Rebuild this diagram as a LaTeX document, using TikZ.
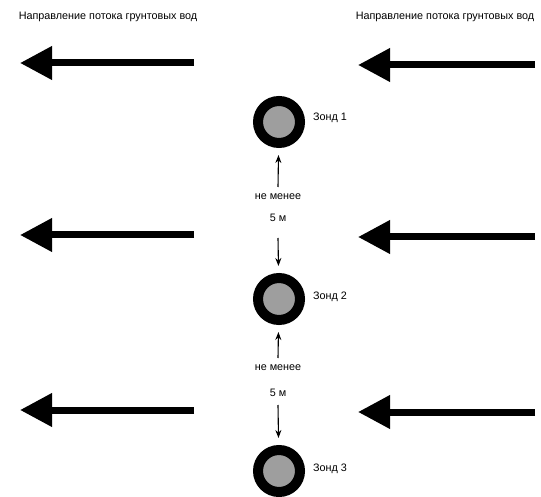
\documentclass[tikz,border=0pt]{standalone}
\usepackage{fontspec}
\setmainfont{Liberation Sans}
\usetikzlibrary{arrows.meta}

\begin{document}
\begin{tikzpicture}[
    x = 1pt, y = 1pt,
      probe/.style={circle, draw=black, line width=10pt, fill=black!38, minimum size=42pt, inner sep=0pt},
      probelabel/.style={anchor=west, inner sep=0pt, font=\fontsize{10.8}{13}\selectfont},
      header/.style={inner sep=0pt, font=\fontsize{10.8}{13}\selectfont},
      spacing/.style={inner sep=0pt, font=\fontsize{10.8}{13}\selectfont},
      flow/.style={-{Triangle[length=32pt, width=32pt]}, line width=7pt, color=black},
      gap/.style={-{Stealth[length=8pt, width=6pt]}, line width=1.1pt, color=black, shorten >=7pt}
  ]
      \useasboundingbox (0, 0) rectangle (541, -497);

      % Headers
      \node (headleft) at (108, -17) [header] {Направление потока грунтовых вод};
      \node (headright) at (445, -17) [header] {Направление потока грунтовых вод};

      % Flow arrows
      \foreach \row/\yl/\yr in {1/-63/-65, 2/-235/-237, 3/-410/-412} {
        \coordinate (ltail\row) at (194, \yl);
        \coordinate (lhead\row) at (20, \yl);
        \coordinate (rtail\row) at (535, \yr);
        \coordinate (rhead\row) at (358, \yr);
        \draw[flow] (ltail\row) -- (lhead\row);
        \draw[flow] (rtail\row) -- (rhead\row);
      }

      % Probes
      \node (probe1) at (279, -122) [probe] {};
      \node (probe2) at (279, -299) [probe] {};
      \node (probe3) at (279, -471) [probe] {};
      \node (label1) at (313, -118) [probelabel] {Зонд 1};
      \node (label2) at (313, -297) [probelabel] {Зонд 2};
      \node (label3) at (313, -469) [probelabel] {Зонд 3};

      % Spacing
      \node (min1) at (278, -197) [spacing] {не менее};
      \node (five1) at (278, -218) [spacing] {5 м};
      \node (min2) at (278, -368) [spacing] {не менее};
      \node (five2) at (278, -393) [spacing] {5 м};
      \coordinate (up1) at (278, -187);
      \coordinate (down1) at (278, -238);
      \coordinate (up2) at (278, -358);
      \coordinate (down2) at (278, -405);

      % Arrows
      \draw[gap] (up1) -- (probe1);
      \draw[gap] (down1) -- (probe2);
      \draw[gap] (up2) -- (probe2);
      \draw[gap] (down2) -- (probe3);
  \end{tikzpicture}
\end{document}
